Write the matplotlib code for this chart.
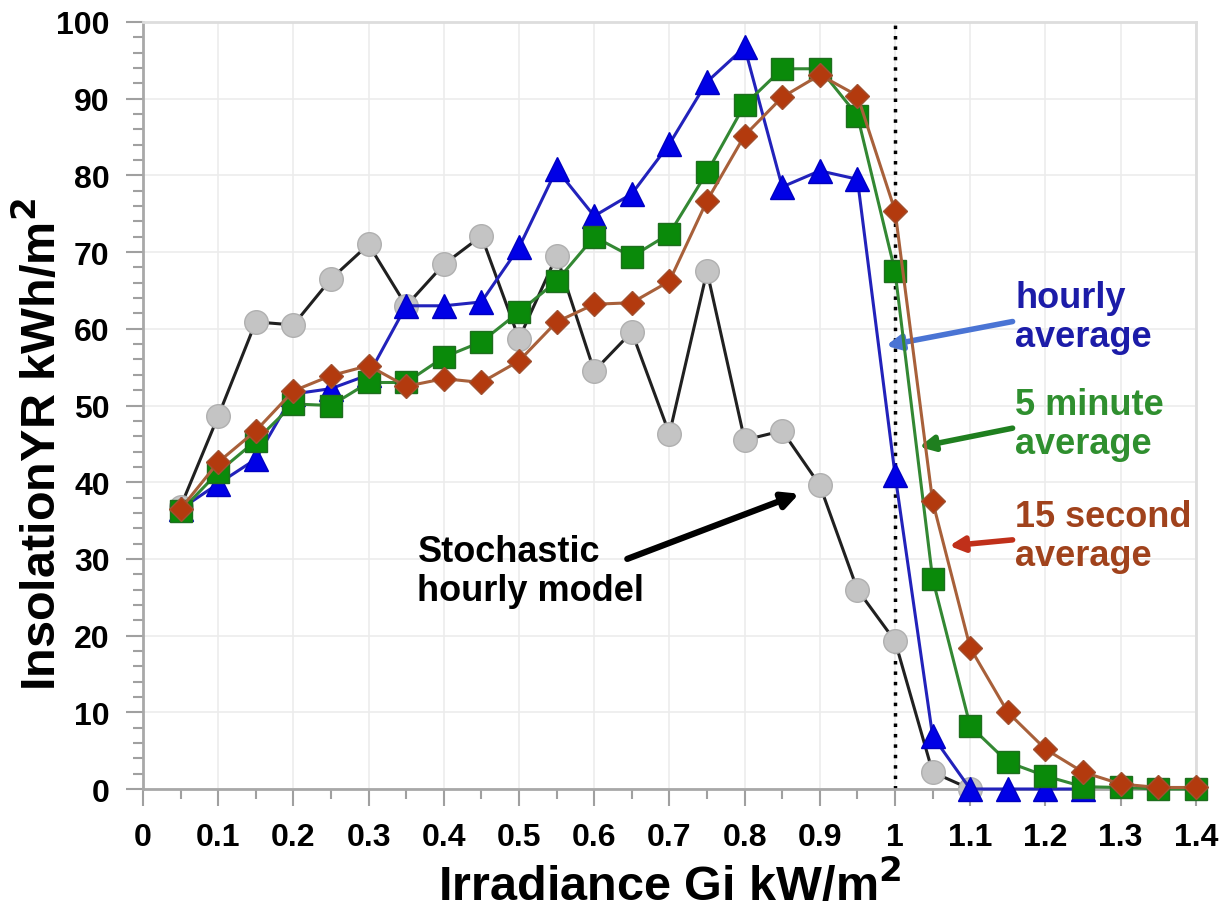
import numpy as np
import matplotlib
matplotlib.use('Agg')
import matplotlib.pyplot as plt
from matplotlib.ticker import MultipleLocator, FuncFormatter

plt.rcParams['font.family'] = ['Liberation Sans', 'DejaVu Sans']
plt.rcParams['font.weight'] = 'bold'

# irradiance bins (kW/m2)
gi = [0.05, 0.1, 0.15, 0.2, 0.25, 0.3, 0.35, 0.4, 0.45, 0.5, 0.55, 0.6, 0.65, 0.7,
      0.75, 0.8, 0.85, 0.9, 0.95, 1.0, 1.05, 1.1, 1.15, 1.2, 1.25, 1.3, 1.35, 1.4]

# stochastic hourly model (grey circles)
stoch = [36.8, 48.6, 60.9, 60.5, 66.5, 71.0, 63.0, 68.4, 72.1, 58.7, 69.5, 54.5, 59.6, 46.3,
         67.5, 45.5, 46.7, 39.6, 26.0, 19.3, 2.2, 0.0]
# hourly average (blue triangles)
hourly = [36.5, 39.8, 43.0, 51.5, 52.2, 54.0, 63.0, 63.0, 63.5, 70.6, 80.8, 74.7, 77.6, 84.1,
          92.2, 96.7, 78.5, 80.6, 79.5, 41.0, 6.9, 0.0, 0.0, 0.0, 0.0]
# 5 minute average (green squares)
min5 = [36.2, 41.3, 45.4, 50.2, 50.0, 53.0, 53.0, 56.3, 58.3, 62.2, 66.2, 72.0, 69.4, 72.4,
        80.4, 89.2, 93.9, 93.9, 87.8, 67.5, 27.4, 8.2, 3.5, 1.7, 0.3, 0.2, 0.0, 0.0]
# 15 second average (brown diamonds)
sec15 = [36.5, 42.6, 46.7, 51.9, 53.9, 55.2, 52.5, 53.5, 53.0, 55.8, 60.9, 63.2, 63.4, 66.2,
         76.7, 85.2, 90.2, 93.1, 90.4, 75.4, 37.5, 18.4, 10.0, 5.2, 2.2, 0.65, 0.2, 0.2]

fig = plt.figure(figsize=(12.24, 9.2), dpi=100)
ax = fig.add_axes([0.1168, 0.1413, 0.8602, 0.8337])

ax.set_xlim(0, 1.4)
ax.set_ylim(0, 100)

ax.xaxis.set_major_locator(MultipleLocator(0.1))
ax.xaxis.set_minor_locator(MultipleLocator(0.05))
ax.yaxis.set_major_locator(MultipleLocator(10))
ax.yaxis.set_minor_locator(MultipleLocator(2))
ax.xaxis.set_major_formatter(FuncFormatter(lambda v, p: '%g' % round(v, 2)))

ax.grid(True, which='major', color='#ececec', lw=1.2, zorder=0)

for s in ['top', 'right']:
    ax.spines[s].set_color('#dddddd')
    ax.spines[s].set_linewidth(2)
for s in ['left', 'bottom']:
    ax.spines[s].set_color('#a8a8a8')
    ax.spines[s].set_linewidth(2)

ax.tick_params(which='major', direction='out', length=12, width=1.5, color='#a0a0a0',
               labelsize=23)
ax.tick_params(which='minor', direction='out', length=7, width=1.5, color='#a0a0a0')
ax.tick_params(axis='x', which='major', pad=12)
ax.tick_params(axis='y', which='major', pad=12)
for lab in ax.get_xticklabels() + ax.get_yticklabels():
    lab.set_fontweight('bold')

# dotted line at 1 kW/m2
ax.axvline(1.0, color='black', ls=(0, (1, 2)), lw=2.5, zorder=2)

ax.plot(gi[:len(stoch)], stoch, color='#202020', lw=2.2, marker='o', ms=17,
        mfc='#c4c4c4', mec='#b0b0b0', mew=1, zorder=3, clip_on=False)
ax.plot(gi[:len(hourly)], hourly, color='#2222bb', lw=2.2, marker='^', ms=17,
        mfc='#0000e6', mec='#0000c0', mew=1, zorder=4, clip_on=False)
ax.plot(gi, min5, color='#338833', lw=2.2, marker='s', ms=16,
        mfc='#0a8a0a', mec='#1e6e1e', mew=1, zorder=5, clip_on=False)
ax.plot(gi, sec15, color='#a8603a', lw=2.2, marker='D', ms=12,
        mfc='#b33a0e', mec='#a05030', mew=1, zorder=6, clip_on=False)

# annotations
ax.annotate('hourly\naverage', xy=(0.988, 57.8), xytext=(1.16, 61.5),
            fontsize=26, fontweight='bold', color='#1c1ca8', ha='left', va='center',
            linespacing=1.15,
            arrowprops=dict(arrowstyle='-|>', color='#4a74d4', lw=4, mutation_scale=22,
                            shrinkA=0, shrinkB=0, relpos=(0, 0.45)))
ax.annotate('5 minute\naverage', xy=(1.032, 44.6), xytext=(1.16, 47.6),
            fontsize=26, fontweight='bold', color='#2f8f2f', ha='left', va='center',
            linespacing=1.15,
            arrowprops=dict(arrowstyle='-|>', color='#1f7f1f', lw=4, mutation_scale=22,
                            shrinkA=0, shrinkB=0, relpos=(0, 0.45)))
ax.annotate('15 second\naverage', xy=(1.072, 31.7), xytext=(1.16, 33.0),
            fontsize=26, fontweight='bold', color='#a0421c', ha='left', va='center',
            linespacing=1.15,
            arrowprops=dict(arrowstyle='-|>', color='#c0301a', lw=4, mutation_scale=22,
                            shrinkA=0, shrinkB=0, relpos=(0, 0.45)))
ax.annotate('Stochastic\nhourly model', xy=(0.8725, 38.5), xytext=(0.365, 28.4),
            fontsize=26, fontweight='bold', color='black', ha='left', va='center',
            linespacing=1.15)
ax.annotate('', xy=(0.8725, 38.5), xytext=(0.644, 30.0),
            arrowprops=dict(arrowstyle='-|>', color='black', lw=4.5, mutation_scale=24,
                            shrinkA=0, shrinkB=0))

ax.set_xlabel('Irradiance Gi kW/m$^\\mathbf{2}$', fontsize=35, fontweight='bold', labelpad=6)
ax.set_ylabel('InsolationYR kWh/m$^\\mathbf{2}$', fontsize=35, fontweight='bold', va='center')
ax.yaxis.set_label_coords(-0.097, 0.45)

fig.savefig('out.png', dpi=100)
